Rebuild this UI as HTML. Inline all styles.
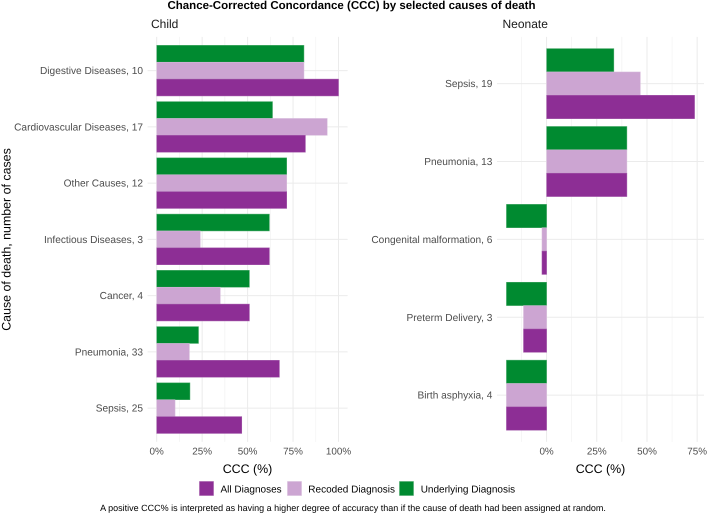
<!DOCTYPE html>
<html lang="en">
<head>
<meta charset="utf-8">
<title>Chance-Corrected Concordance by selected causes of death</title>
<style>
html,body{margin:0;padding:0;background:#fff;width:708px;height:514px;overflow:hidden}
svg{display:block;font-family:"Liberation Sans",sans-serif;text-rendering:geometricPrecision}
</style>
</head>
<body>
<svg id="chart" xmlns="http://www.w3.org/2000/svg" width="708" height="514" viewBox="0 0 708 514">
  <text x="351.5" y="9.2" text-anchor="middle" font-size="11.5" font-weight="bold" fill="#000">Chance-Corrected Concordance (CCC) by selected causes of death</text>
  <text x="151" y="28" font-size="12" fill="#1a1a1a">Child</text>
  <text x="502.5" y="28" font-size="12" fill="#1a1a1a">Neonate</text>
  <text transform="translate(10.5 239.5) rotate(-90)" text-anchor="middle" font-size="12.4" fill="#000">Cause of death, number of cases</text>
  <text x="247.5" y="473" text-anchor="middle" font-size="12.4" fill="#000">CCC (%)</text>
  <text x="600.5" y="473" text-anchor="middle" font-size="12.4" fill="#000">CCC (%)</text>
  <g id="child-panel"></g>
  <g id="neonate-panel"></g>
  <g>
    <g>
      <rect x="199.5" y="481.5" width="14" height="14" fill="#8d2e95" stroke="#a45bab" stroke-width="0.6"/>
      <text x="220.5" y="492.4" font-size="10" fill="#000">All Diagnoses</text>
    </g>
    <g>
      <rect x="287.5" y="481.5" width="14" height="14" fill="#cca5d2" stroke="#d8bddc" stroke-width="0.6"/>
      <text x="308.3" y="492.4" font-size="10" fill="#000">Recoded Diagnosis</text>
    </g>
    <g>
      <rect x="399.5" y="481.5" width="14" height="14" fill="#008a30" stroke="#4dab6d" stroke-width="0.6"/>
      <text x="420.7" y="492.4" font-size="10" fill="#000">Underlying Diagnosis</text>
    </g>
  </g>
  <text x="353" y="511" text-anchor="middle" font-size="9" fill="#000">A positive CCC% is interpreted as having a higher degree of accuracy than if the cause of death had been assigned at random.</text>
</svg>
<script>
var childCategories = ["Digestive Diseases, 10", "Cardiovascular Diseases, 17", "Other Causes, 12", "Infectious Diseases, 3", "Cancer, 4", "Pneumonia, 33", "Sepsis, 25"];
var childUnderlying = [81, 63.7, 71.5, 62, 51, 23, 18.3];
var childRecoded = [81, 93.8, 71.5, 24, 35, 18, 10.1];
var childAll = [100, 81.8, 71.5, 62, 51, 67.5, 46.8];
var childTicks = [0, 25, 50, 75, 100];
var childMinorTicks = [12.5, 37.5, 62.5, 87.5];

var neonateCategories = ["Sepsis, 19", "Pneumonia, 13", "Congenital malformation, 6", "Preterm Delivery, 3", "Birth asphyxia, 4"];
var neonateUnderlying = [33.5, 40, -20, -20, -20];
var neonateRecoded = [46.7, 40, -2.3, -11.5, -20];
var neonateAll = [73.7, 40, -2.3, -11.5, -20];
var neonateTicks = [0, 25, 50, 75];
var neonateMinorTicks = [-12.5, 12.5, 37.5, 62.5];

var NS = "http://www.w3.org/2000/svg";
var PANEL_TOP = 36.9, PANEL_BOTTOM = 441.9;

function add(parent, tag, attrs) {
  var el = document.createElementNS(NS, tag);
  for (var k in attrs) el.setAttribute(k, attrs[k]);
  parent.appendChild(el);
  return el;
}

function drawPanel(id, prefix, categories, underlying, recoded, all, ticks, minorTicks, domain, range) {
  var g = document.getElementById(id);
  var x = function (v) {
    return range[0] + (v - domain[0]) / (domain[1] - domain[0]) * (range[1] - range[0]);
  };
  var step = (PANEL_BOTTOM - PANEL_TOP) / (categories.length + 0.2);
  var y = function (i) { return PANEL_TOP + step * (0.6 + i); };
  var barH = step * 0.3;

  minorTicks.forEach(function (t) {
    var ln = add(g, "line", { x1: x(t), x2: x(t), y1: PANEL_TOP, y2: PANEL_BOTTOM, stroke: "#f0f0f0", "stroke-width": 0.6 });
    
    
  });
  ticks.forEach(function (t) {
    var ln = add(g, "line", { x1: x(t), x2: x(t), y1: PANEL_TOP, y2: PANEL_BOTTOM, stroke: "#ebebeb", "stroke-width": 1 });
    
    
    var lb = add(g, "text", { x: x(t), y: 454.6, "text-anchor": "middle", "font-size": 9.9, fill: "#4d4d4d" });
    lb.textContent = t + "%";
    
    
  });

  categories.forEach(function (c, i) {
    var ln = add(g, "line", { x1: range[0], x2: range[1], y1: y(i), y2: y(i), stroke: "#ebebeb", "stroke-width": 1 });
    
    
    var lb = add(g, "text", { x: range[0] - 4.6, y: y(i) + 3.5, "text-anchor": "end", "font-size": 10.15, fill: "#4d4d4d" });
    lb.textContent = c;
    
    
  });

  var series = [
    { values: underlying, fill: "#008a30", stroke: "#4dab6d", offset: -1.5 },
    { values: recoded, fill: "#cca5d2", stroke: "#d8bddc", offset: -0.5 },
    { values: all, fill: "#8d2e95", stroke: "#a45bab", offset: 0.5 }
  ];
  series.forEach(function (s) {
    s.values.forEach(function (v, i) {
      var x0 = Math.min(x(0), x(v)), w = Math.abs(x(v) - x(0));
      var r = add(g, "rect", { x: x0, y: y(i) + s.offset * barH, width: w, height: barH, fill: s.fill, stroke: s.stroke, "stroke-width": 0.5 });
      
      
    });
  });
}

drawPanel("child-panel", "child", childCategories, childUnderlying, childRecoded, childAll, childTicks, childMinorTicks, [-5, 105], [147.6, 347.6]);
drawPanel("neonate-panel", "neonate", neonateCategories, neonateUnderlying, neonateRecoded, neonateAll, neonateTicks, neonateMinorTicks, [-24.7, 78.4], [497, 704]);
</script>
</body>
</html>
